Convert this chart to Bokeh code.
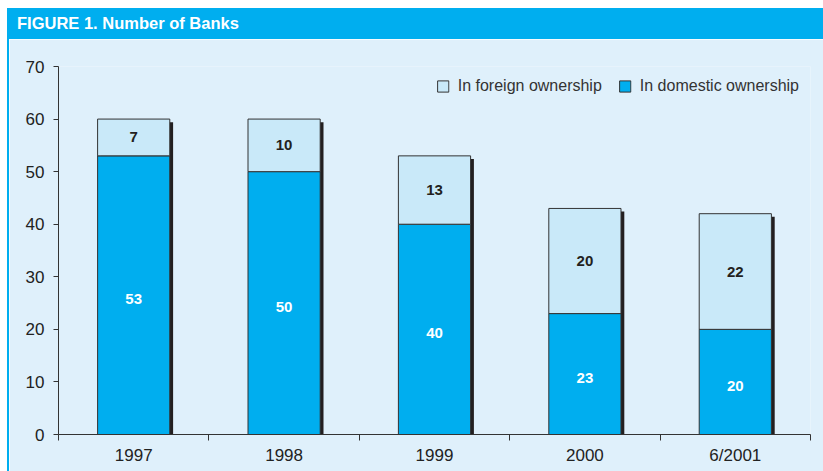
from bokeh.plotting import figure
from bokeh.models import (ColumnDataSource, Range1d, LinearAxis, FixedTicker, Legend,
                          LegendItem, Div)
from bokeh.layouts import column, row
from bokeh.transform import dodge
from bokeh.core.properties import value
from bokeh.embed import file_html
from bokeh.resources import INLINE

# ---- data ----
years = ["1997", "1998", "1999", "2000", "6/2001"]
domestic = [53, 50, 40, 23, 20]
foreign = [7, 10, 13, 20, 22]
y_ticks = [0, 10, 20, 30, 40, 50, 60, 70]

title_text = "FIGURE 1. Number of Banks"

BG = "#dff0fb"
BLUE = "#00aeef"
LIGHT = "#c9e9f9"
DARK = "#231f20"
FONT = "Liberation Sans"

xpos = [i + 0.5 for i in range(len(years))]
total = [d + f for d, f in zip(domestic, foreign)]
src = ColumnDataSource(dict(
    x=xpos, domestic=domestic, foreign=foreign, total=total,
    dom_mid=[d / 2 for d in domestic],
    for_mid=[d + f / 2 for d, f in zip(domestic, foreign)],
    dom_lbl=[str(d) for d in domestic],
    for_lbl=[str(f) for f in foreign],
))

p = figure(width=814, height=432, output_backend="svg", toolbar_location=None,
           x_range=Range1d(0, len(years)), y_range=Range1d(0, 70),
           x_axis_type=None, y_axis_type=None,
           min_border_left=49, min_border_right=13, min_border_top=27, min_border_bottom=37,
           background_fill_color=BG, border_fill_color=BG, outline_line_color=None)

# y axis
yax = LinearAxis(ticker=FixedTicker(ticks=y_ticks, minor_ticks=[]))
yax.axis_line_color = "#333333"
yax.major_tick_line_color = "#333333"
yax.major_tick_out = 5
yax.major_tick_in = 0
yax.major_label_standoff = 9
yax.major_label_text_font = FONT
yax.major_label_text_font_size = "17px"
yax.major_label_text_color = "#222222"
p.add_layout(yax, "left")

# x axis: labels at centres, ticks at boundaries
xax = LinearAxis(ticker=FixedTicker(ticks=xpos, minor_ticks=list(range(len(years) + 1))))
xax.major_label_overrides = {x: y for x, y in zip(xpos, years)}
xax.axis_line_color = "#333333"
xax.major_tick_out = 0
xax.major_tick_in = 0
xax.minor_tick_out = 6
xax.minor_tick_in = 0
xax.minor_tick_line_color = "#333333"
xax.major_label_standoff = 5
xax.major_label_text_font = FONT
xax.major_label_text_font_size = "17px"
xax.major_label_text_color = "#222222"
p.add_layout(xax, "below")

p.ygrid.grid_line_color = "white"
p.ygrid.grid_line_width = 1.5
p.ygrid.ticker = FixedTicker(ticks=y_ticks)
p.xgrid.visible = False

# shadow
p.vbar(x=dodge("x", 0.022), top=dodge("total", -0.6), bottom=-1, width=0.48,
       source=src, fill_color=DARK, line_color=None)

r_dom = p.vbar(x="x", top="domestic", bottom=0, width=0.48, source=src,
               fill_color=BLUE, line_color="#333333", line_width=1)
r_for = p.vbar(x="x", top="total", bottom="domestic", width=0.48, source=src,
               fill_color=LIGHT, line_color="#333333", line_width=1)

p.text(x="x", y="dom_mid", text="dom_lbl", source=src, text_color="white",
       text_font=value(FONT), text_font_style="bold", text_font_size="15px",
       text_align="center", text_baseline="middle", y_offset=4)
p.text(x="x", y="for_mid", text="for_lbl", source=src, text_color=DARK,
       text_font=value(FONT), text_font_style="bold", text_font_size="15px",
       text_align="center", text_baseline="middle")

legend = Legend(items=[LegendItem(label="In foreign ownership", renderers=[r_for]),
                       LegendItem(label="In domestic ownership", renderers=[r_dom])],
                orientation="horizontal", location="top_right",
                background_fill_alpha=0, border_line_color=None,
                label_text_font=FONT, label_text_font_size="16px", label_text_color="#333333",
                glyph_width=14, glyph_height=14, spacing=16, label_standoff=8,
                padding=0, margin=11)
p.add_layout(legend)

div = Div(text=title_text, width=814, height=31, margin=0,
          styles={"background-color": BLUE, "color": "white", "font-family": FONT,
                  "font-weight": "bold", "font-size": "16.5px", "line-height": "31px",
                  "padding-left": "8px", "box-sizing": "border-box"})

strip = Div(text="", width=2, height=463, margin=0,
            styles={"background-color": BLUE})

layout = row(strip, column(div, p, spacing=0), spacing=0, margin=(8, 0, 0, 7))
open("out.html", "w").write(file_html(layout, INLINE))
